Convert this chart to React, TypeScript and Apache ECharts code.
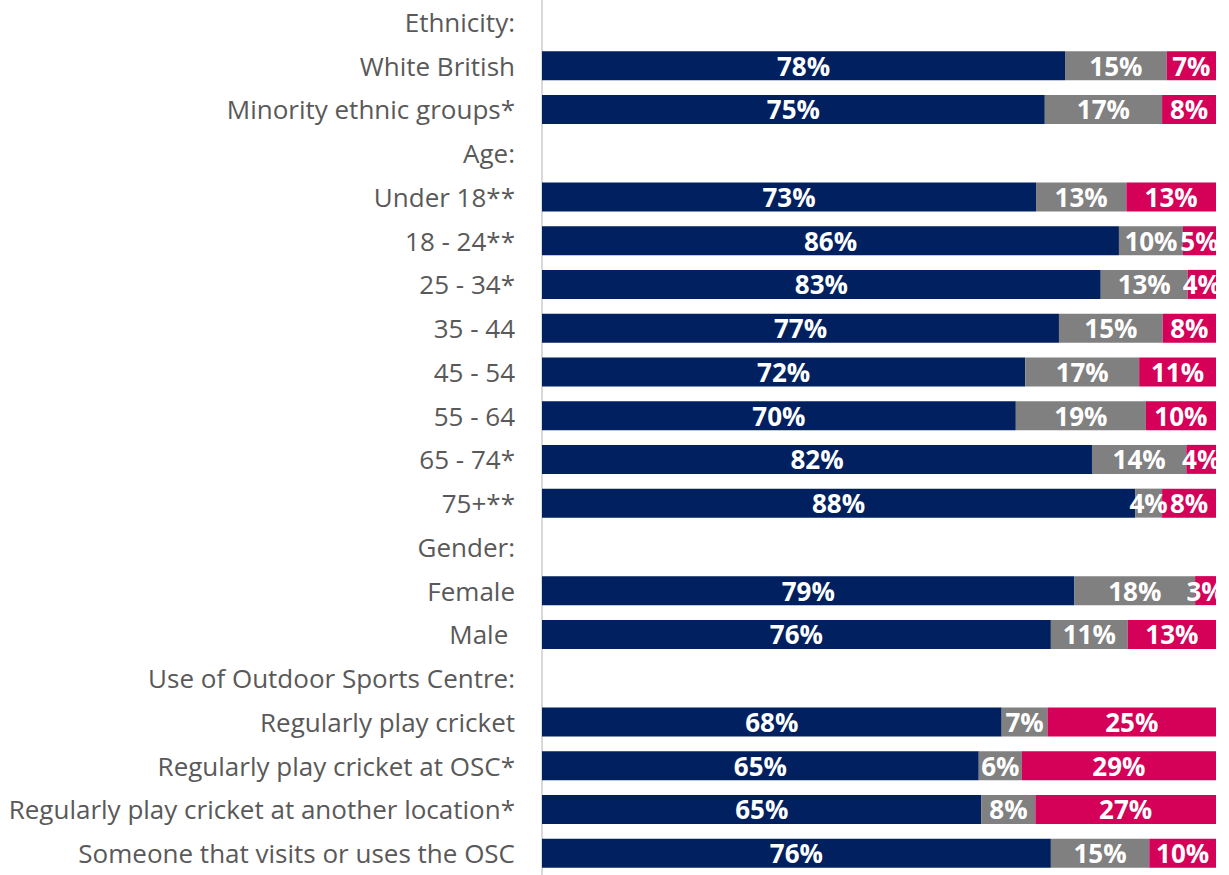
import React, { useEffect, useRef } from "react";
import * as echarts from "echarts";

const categories = [
  "Ethnicity:",
  "White British",
  "Minority ethnic groups*",
  "Age:",
  "Under 18**",
  "18 - 24**",
  "25 - 34*",
  "35 - 44",
  "45 - 54",
  "55 - 64",
  "65 - 74*",
  "75+**",
  "Gender:",
  "Female",
  "Male ",
  "Use of Outdoor Sports Centre:",
  "Regularly play cricket",
  "Regularly play cricket at OSC*",
  "Regularly play cricket at another location*",
  "Someone that visits or uses the OSC",
];

const navyValues = [null, 77.6, 74.6, null, 73.3, 85.6, 82.9, 76.7, 71.7, 70.3, 81.6, 88.0, null, 79.0, 75.5, null, 68.2, 64.8, 65.2, 75.5];
const grayValues = [null, 15.1, 17.4, null, 13.4, 9.5, 12.9, 15.4, 16.9, 19.3, 14.0, 4.0, null, 17.9, 11.4, null, 6.8, 6.4, 8.0, 14.6];
const pinkValues = [null, 7.3, 8.0, null, 13.3, 4.9, 4.2, 7.9, 11.4, 10.4, 4.4, 8.0, null, 3.1, 13.1, null, 25.0, 28.8, 26.8, 9.9];

const W = 1229;
const H = 875;
const FONT = "Open Sans";

export default function App() {
  const ref = useRef<HTMLDivElement>(null);
  useEffect(() => {
    if (!ref.current) return;
    const chart = echarts.init(ref.current, undefined, { renderer: "svg" });
    const label = {
      show: true,
      position: "inside" as const,
      color: "#ffffff",
      fontWeight: "bold" as const,
      fontSize: 26,
      fontFamily: FONT,
      formatter: (p: any) => (p.value == null ? "" : Math.round(p.value) + "%"),
    };
    const mk = (name: string, data: (number | null)[], color: string) => ({
      name,
      type: "bar" as const,
      stack: "total",
      data,
      barWidth: 29,
      itemStyle: { color },
      label,
      labelLayout: { hideOverlap: false },
    });
    chart.setOption({
      animation: false,
      grid: { left: 542, right: 13, top: 0, height: 880 },
      xAxis: { type: "value", min: 0, max: 100, show: false },
      yAxis: {
        type: "category",
        inverse: true,
        data: categories,
        axisTick: { show: false },
        axisLine: { show: true, lineStyle: { color: "#d9d9d9", width: 2 } },
        axisLabel: {
          color: "#595959",
          fontSize: 26,
          fontFamily: FONT,
          margin: 27,
        },
      },
      series: [
        mk("Navy", navyValues, "#002060"),
        mk("Gray", grayValues, "#808080"),
        mk("Pink", pinkValues, "#D50057"),
      ],
    });
    return () => chart.dispose();
  }, []);
  return (
    <div
      ref={ref}
      style={{ position: "absolute", left: 0, top: 0, width: W, height: H, background: "#fff" }}
    />
  );
}
